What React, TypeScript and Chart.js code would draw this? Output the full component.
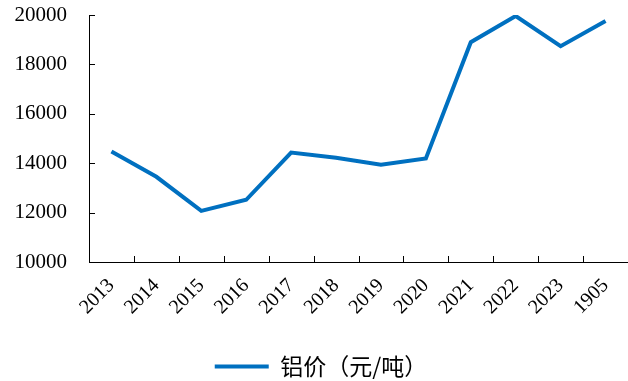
import React, { useEffect, useRef } from "react";
import { Chart, registerables } from "chart.js";

Chart.register(...registerables);

const categories = ["2013", "2014", "2015", "2016", "2017", "2018", "2019", "2020", "2021", "2022", "2023", "1905"];
const aluminumPrice = [14470, 13450, 12070, 12520, 14430, 14220, 13940, 14190, 18900, 19960, 18740, 19760];
const seriesName = "铝价（元/吨）";
const yMin = 10000;
const yMax = 20000;
const yStep = 2000;

const BLUE = "#0070C0";
const SERIF = "Liberation Serif";

const innerTicks = {
  id: "innerTicks",
  afterLayout(chart: any) {
    const lg = chart.legend;
    if (lg && !lg.__shifted) {
      lg.__shifted = true;
      const orig = lg.draw.bind(lg);
      lg.draw = (...args: any[]) => {
        const ctx = chart.ctx;
        ctx.save();
        ctx.translate(7, 0);
        orig(...args);
        ctx.restore();
      };
    }
  },
  afterDraw(chart: any) {
    const ctx = chart.ctx;
    const x = chart.scales.x;
    const y = chart.scales.y;
    const area = chart.chartArea;
    ctx.save();
    ctx.strokeStyle = "#000";
    ctx.lineWidth = 1;
    ctx.beginPath();
    for (let i = 1; i < categories.length; i++) {
      const px = Math.round((x.getPixelForTick(i - 1) + x.getPixelForTick(i)) / 2) + 0.5;
      ctx.moveTo(px, area.bottom);
      ctx.lineTo(px, area.bottom - 6);
    }
    for (let v = yMin + yStep; v <= yMax; v += yStep) {
      const py = Math.round(y.getPixelForValue(v)) + 0.5;
      ctx.moveTo(area.left, py);
      ctx.lineTo(area.left + 6, py);
    }
    ctx.stroke();
    ctx.restore();
  },
};

export default function App() {
  const ref = useRef<HTMLCanvasElement | null>(null);
  useEffect(() => {
    if (!ref.current) return;
    const chart = new Chart(ref.current, {
      type: "line",
      data: {
        labels: categories,
        datasets: [
          {
            label: seriesName,
            data: aluminumPrice,
            borderColor: BLUE,
            backgroundColor: BLUE,
            borderWidth: 4,
            pointRadius: 0,
            tension: 0,
            fill: false,
            borderJoinStyle: "miter",
          },
        ],
      },
      options: {
        animation: false,
        responsive: false,
        layout: { padding: { top: 15, right: 0, left: 0, bottom: -7 } },
        plugins: {
          tooltip: { enabled: false },
          legend: {
            position: "bottom",
            labels: {
              font: { family: "Noto Sans CJK SC", size: 23 },
              color: "#000",
              boxWidth: 54,
              boxHeight: 4,
              padding: 1,
              generateLabels: (c: any) =>
                c.data.datasets.map((d: any, i: number) => ({
                  text: d.label,
                  fillStyle: BLUE,
                  strokeStyle: BLUE,
                  lineWidth: 0,
                  datasetIndex: i,
                  hidden: false,
                  fontColor: "#000",
                })),
            },
          },
        },
        scales: {
          x: {
            offset: true,
            grid: { display: false, drawTicks: false },
            border: { display: true, color: "#000", width: 1 },
            ticks: {
              maxRotation: 45,
              minRotation: 45,
              padding: 12,
              color: "#000",
              font: { family: SERIF, size: 20 },
            },
            afterFit: (s: any) => {
              s.paddingLeft = 0;
              s.paddingRight = 0;
              s.height = 92;
            },
          },
          y: {
            min: yMin,
            max: yMax,
            grid: { display: false, drawTicks: false },
            border: { display: true, color: "#000", width: 1 },
            ticks: {
              stepSize: yStep,
              padding: 22,
              color: "#000",
              font: { family: SERIF, size: 21 },
              callback: (v: any) => String(v),
            },
            afterFit: (s: any) => {
              s.width = 89;
              s.paddingTop = 0;
              s.paddingBottom = 0;
            },
          },
        },
      },
      plugins: [innerTicks],
    });
    return () => chart.destroy();
  }, []);
  return (
    <div style={{ position: "fixed", left: 0, top: 0, width: 628, height: 381, background: "#fff" }}>
      <canvas ref={ref} width={628} height={381} style={{ display: "block" }} />
    </div>
  );
}
